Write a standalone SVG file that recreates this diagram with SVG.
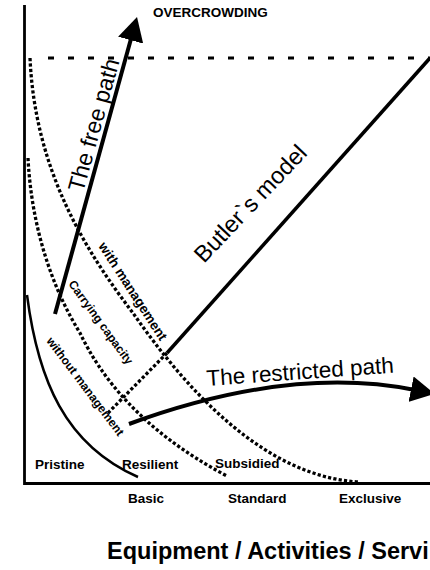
<svg xmlns="http://www.w3.org/2000/svg" width="430" height="570" viewBox="0 0 430 570">
<defs>
<marker id="ah" markerUnits="userSpaceOnUse" viewBox="0 0 24 26" markerWidth="24" markerHeight="26" refX="4" refY="13" orient="auto">
<path d="M0,0 L24,13 L0,26 Z" fill="#000"/>
</marker>
</defs>
<style>
.axis{fill:none;stroke:#000;stroke-width:2.8}
.dot{fill:none;stroke:#000;stroke-width:3.3;stroke-dasharray:3.2 2.2}
.dash{fill:none;stroke:#000;stroke-width:3.2;stroke-dasharray:6 14}
.thick{fill:none;stroke:#000;stroke-width:4}
.mid{fill:none;stroke:#000;stroke-width:3.5}
.solid{fill:none;stroke:#000;stroke-width:2.5}
text{font-family:"Liberation Sans",Arial,sans-serif;fill:#000}
.lbl{font-weight:bold;font-size:13.5px}
.rot{font-weight:bold;font-size:12px}
.big{font-size:22.5px}
.title{font-weight:bold;font-size:23.5px}
</style>
<rect width="430" height="570" fill="#fff"/>
<g id="axes">
<path class="axis" d="M24.5,5 V483.5 H430"/>
<path class="dash" d="M48,58 H432"/>
</g>
<g id="curves">
<path id="without-management-curve" class="solid" d="M27,295 C38,380 65,445 138,477"/>
<path id="carrying-capacity-curve" class="dot" d="M28,158 C31,219 48,281 80,333 C100,375 140,430 227,476"/>
<path id="with-management-curve" class="dot" d="M30,58 C35,170 85,250 133,313 C186.6,390 264,476 358,482"/>
</g>
<g id="connectors">
<path id="butler-ext" class="dot" d="M167,353 L108,413"/>
<path id="butler-model" class="mid" d="M167,353 L430,58"/>
<path id="free-path" class="thick" d="M55,314 L131.7,36.3" marker-end="url(#ah)"/>
<path id="restricted-path" class="thick" d="M129,424 Q290,365 415,390" marker-end="url(#ah)"/>
</g>
<g id="labels">
<text class="lbl" x="153" y="17">OVERCROWDING</text>
<text class="big" style="font-size:23px" transform="translate(83,193) rotate(-74.5)">The free path</text>
<text class="big" style="font-size:23.5px" transform="translate(204,264) rotate(-46.5)">Butler`s model</text>
<text class="big" transform="translate(207,386) rotate(-4.1)">The restricted path</text>
<text class="rot" style="font-size:13.5px" transform="translate(98,246) rotate(57)">with management</text>
<text class="rot" transform="translate(68,284) rotate(54)">Carrying capacity</text>
<text class="rot" transform="translate(46,341) rotate(53)">without management</text>
<text class="lbl" x="35" y="469">Pristine</text>
<text class="lbl" x="122" y="469">Resilient</text>
<text class="lbl" x="215" y="468">Subsidied</text>
<text class="lbl" x="128" y="503">Basic</text>
<text class="lbl" x="228" y="503">Standard</text>
<text class="lbl" x="339" y="503">Exclusive</text>
<text class="title" x="107" y="559">Equipment / Activities / Servi</text>
</g>
</svg>
